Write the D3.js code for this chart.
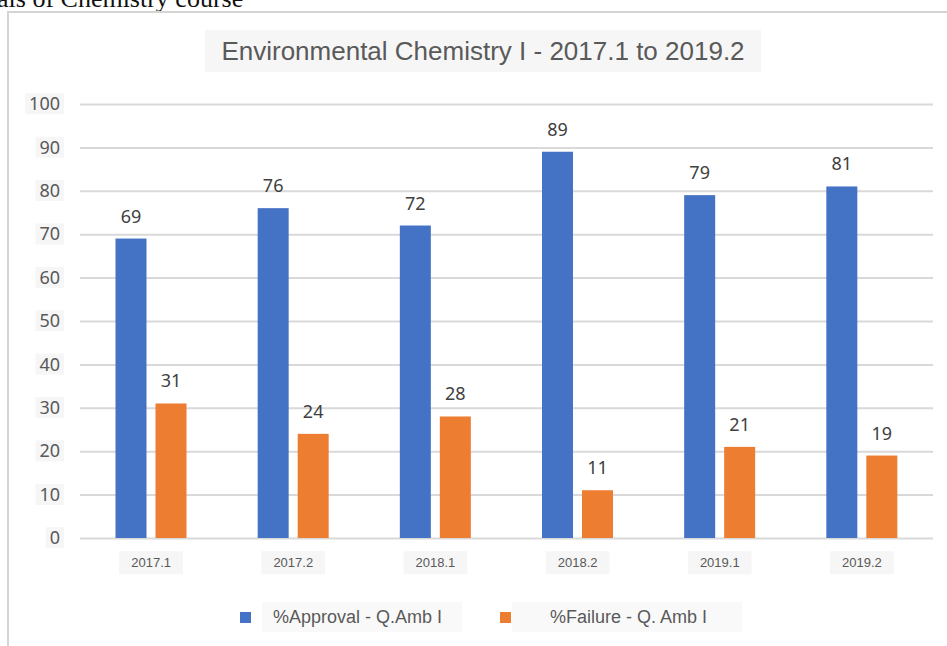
<!DOCTYPE html>
<html>
<head>
<meta charset="utf-8">
<script src="https://cdn.jsdelivr.net/npm/d3@7"></script>
<style>
  body { margin: 0; background: #fff; }
  svg { display: block; }
</style>
</head>
<body>
<script>
// dati
var categories = ["2017.1", "2017.2", "2018.1", "2018.2", "2019.1", "2019.2"];
var seriesNames = ["%Approval - Q.Amb I", "%Failure - Q. Amb I"];
var approval = [69, 76, 72, 89, 79, 81];
var failure = [31, 24, 28, 11, 21, 19];
var yTicks = [0, 10, 20, 30, 40, 50, 60, 70, 80, 90, 100];

var colors = ["#4472C4", "#ED7D31"];

var W = 947, H = 646;
var plotL = 80, plotR = 933, plotT = 104, plotB = 538; // "top" e' gia' window.top

var svg = d3.select("body").append("svg")
    .attr("width", W)
    .attr("height", H);

// testo tagliato in alto (pezzo della pagina originale)
svg.append("text")
    .attr("x", -3).attr("y", 7)
    .style("font-family", "'Liberation Serif', serif")
    .style("font-size", "26px")
    .style("fill", "#111")
    .text("als of Chemistry course");

// bordo del riquadro
svg.append("path")
    .attr("d", `M8 ${H} L8 12 L${W} 12`)
    .style("fill", "none")
    .style("stroke", "#d4d4d4")
    .style("stroke-width", 2);

// titolo con sfondo grigino
svg.append("rect")
    .attr("x", 205).attr("y", 30).attr("width", 556).attr("height", 42)
    .style("fill", "#f6f6f6");

svg.append("text")
    .attr("x", 483).attr("y", 60)
    .attr("text-anchor", "middle")
    .style("font-family", "'Liberation Sans', Arial, sans-serif")
    .style("font-size", "26px")
    .style("fill", "#595959")
    .text("Environmental Chemistry I - 2017.1 to 2019.2");

var x0 = d3.scaleBand().domain(categories).range([plotL, plotR]);
var x1 = d3.scaleBand().domain(seriesNames)
    .range([35.5, 106.5]).paddingInner(0.225);
var y = d3.scaleLinear().domain([0, 100]).range([plotB, plotT]);

// griglia
var grid = svg.append("g")
    .attr("transform", `translate(${plotL},0)`)
    .call(d3.axisLeft(y).tickValues(yTicks).tickSize(-(plotR - plotL)).tickFormat(""));
grid.select(".domain").remove();
grid.selectAll("line").style("stroke", "#d9d9d9").style("stroke-width", 2);

// etichette asse y
var yAx = svg.append("g")
    .attr("transform", `translate(${plotL},0)`)
    .call(d3.axisLeft(y).tickValues(yTicks).tickSize(0).tickPadding(20));
yAx.select(".domain").remove();
yAx.selectAll("text")
    .style("font-family", "'Noto Sans', sans-serif")
    .style("font-size", "18px")
    .style("fill", "#595959");
yAx.selectAll(".tick").each(function(){
    var t = d3.select(this).select("text");
    var bb = t.node().getBBox();
    d3.select(this).insert("rect", "text")
        .attr("x", bb.x - 4).attr("y", bb.y + 2)
        .attr("width", bb.width + 8).attr("height", bb.height - 3)
        .style("fill", "#f6f6f6");
});

// barre
var data = categories.map(function(c, i){
    return { cat: c, vals: [ {s: seriesNames[0], v: approval[i], k: 0}, {s: seriesNames[1], v: failure[i], k: 1} ] };
});

var groups = svg.selectAll(".grp")
    .data(data)
    .enter()
    .append("g")
    .attr("class", "grp")
    .attr("transform", function(d){ return `translate(${x0(d.cat)},0)`; });

groups.selectAll("rect")
    .data(function(d){ return d.vals; })
    .enter()
    .append("rect")
    .attr("x", function(d){ return x1(d.s); })
    .attr("y", function(d){ return y(d.v); })
    .attr("width", x1.bandwidth())
    .attr("height", function(d){ return y(0) - y(d.v); })
    .style("fill", function(d){ return colors[d.k]; });

groups.selectAll(".lbl")
    .data(function(d){ return d.vals; })
    .enter()
    .append("text")
    .attr("class", "lbl")
    .attr("x", function(d){ return x1(d.s) + x1.bandwidth() / 2; })
    .attr("y", function(d){ return y(d.v) - 16; })
    .attr("text-anchor", "middle")
    .style("font-family", "'Noto Sans', sans-serif")
    .style("font-size", "18px")
    .style("fill", "#404040")
    .text(function(d){ return d.v; });

// etichette categorie
var xAx = svg.append("g")
    .attr("transform", `translate(0,${plotB})`)
    .call(d3.axisBottom(x0).tickSize(0).tickPadding(20));
xAx.select(".domain").remove();
xAx.selectAll("text")
    .style("font-family", "'Liberation Sans', Arial, sans-serif")
    .style("font-size", "13px")
    .style("fill", "#595959");
xAx.selectAll(".tick").each(function(){
    var t = d3.select(this).select("text");
    var bb = t.node().getBBox();
    d3.select(this).insert("rect", "text")
        .attr("x", bb.x - 12).attr("y", bb.y - 4)
        .attr("width", bb.width + 24).attr("height", bb.height + 8)
        .style("fill", "#f6f6f6");
});

// legenda
var legX = [240, 500];
var leg = svg.selectAll(".leg")
    .data(seriesNames)
    .enter()
    .append("g")
    .attr("class", "leg")
    .attr("transform", function(d, i){ return `translate(${legX[i]},612)`; });

leg.append("rect")
    .attr("x", function(d, i){ return i == 0 ? 22 : 12; })
    .attr("y", -10).attr("height", 30)
    .attr("width", function(d, i){ return i == 0 ? 200 : 230; })
    .style("fill", "#f9f9f9");

leg.append("rect")
    .attr("x", 0).attr("y", 0).attr("width", 11).attr("height", 11)
    .style("fill", function(d, i){ return colors[i]; });

leg.append("text")
    .attr("x", function(d, i){ return i == 0 ? 33 : 50; })
    .attr("y", 11)
    .style("font-family", "'Liberation Sans', Arial, sans-serif")
    .style("font-size", "18px")
    .style("fill", "#595959")
    .text(function(d){ return d; });
</script>
</body>
</html>
